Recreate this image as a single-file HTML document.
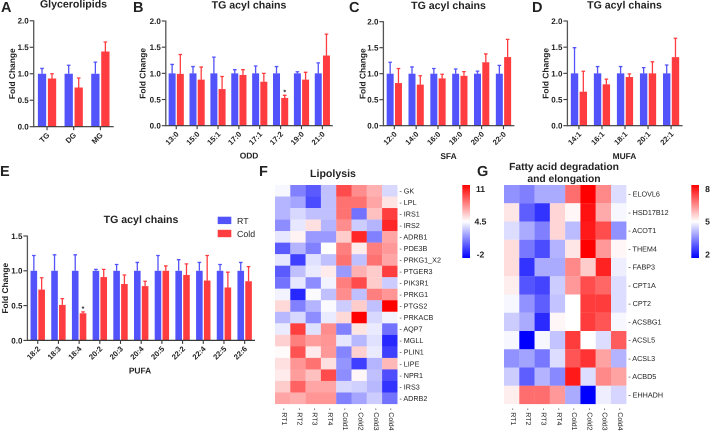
<!DOCTYPE html>
<html>
<head>
<meta charset="utf-8">
<title>Fold change charts and heatmaps</title>
<style>
html,body{margin:0;padding:0;background:#fff;}
svg{display:block;filter:blur(0.3px);}
text{font-family:"Liberation Sans",Arial,sans-serif;fill:#222;text-rendering:geometricPrecision;}
</style>
</head>
<body>
<svg id="fig" xmlns="http://www.w3.org/2000/svg" width="712" height="431" viewBox="0 0 712 431"></svg>
<script>
// Panel A
const catsA = ['TG','DG','MG'];
const rtA = [1,1,1];
const rtTopA = [1.1,1.16,1.22];
const coldA = [0.91,0.74,1.42];
const coldTopA = [1.0,0.92,1.6];
// Panel B
const catsB = ['13:0','15:0','15:1','17:0','17:1','17:2','19:0','21:0'];
const rtB = [1,1,1,1,1,1,1,1];
const rtTopB = [1.17,1.13,1.31,1.07,1.14,1.13,1.03,1.2];
const coldB = [0.99,0.88,0.70,0.97,0.84,0.53,0.88,1.34];
const coldTopB = [1.36,1.12,0.94,1.07,1.0,0.58,1.02,1.75];
// Panel C
const catsC = ['12:0','14:0','16:0','18:0','20:0','22:0'];
const rtC = [1,1,1,1,1,1];
const rtTopC = [1.22,1.13,1.1,1.09,1.05,1.16];
const coldC = [0.82,0.79,0.91,0.96,1.22,1.32];
const coldTopC = [1.1,0.96,0.99,1.04,1.38,1.66];
// Panel D
const catsD = ['14:1','16:1','18:1','20:1','22:1'];
const rtD = [1,1,1,1,1];
const rtTopD = [1.49,1.13,1.13,1.11,1.16];
const coldD = [0.65,0.79,0.93,1.0,1.31];
const coldTopD = [1.04,0.89,0.99,1.22,1.67];
// Panel E
const catsE = ['18:2','18:3','18:4','20:2','20:3','20:4','20:5','22:2','22:4','22:5','22:6'];
const rtE = [1,1,1,1,1,1,1,1,1,1,1];
const rtTopE = [1.22,1.23,1.23,1.02,1.09,1.12,1.22,1.16,1.12,1.09,1.12];
const coldE = [0.73,0.51,0.39,0.91,0.81,0.78,1.0,0.94,0.86,0.76,0.85];
const coldTopE = [0.90,0.60,0.41,1.02,0.94,0.85,1.07,1.1,1.22,0.98,1.06];
// Axis ticks
const ticks2 = [0,0.5,1,1.5,2];
const ticks15 = [0,0.5,1,1.5];
// Heatmap F
const colsHeat = ['RT1','RT2','RT3','RT4','Cold1','Cold2','Cold3','Cold4'];
const rowsF = ['GK','LPL','IRS1','IRS2','ADRB1','PDE3B','PRKG1_X2','PTGER3','PIK3R1','PRKG1','PTGS2','PRKACB','AQP7','MGLL','PLIN1','LIPE','NPR1','IRS3','ADRB2'];
const valuesF = [
[4.3,1.3,0.3,2.9,9.1,7.4,6.5,3.5],
[2.6,2.2,-0.1,2.9,8.1,8.1,6.8,5.2],
[2.6,3.5,2.9,2.9,8.1,0.9,6.1,9.4],
[1.6,3.9,5.3,2.6,7.4,3.2,2.6,10],
[3.9,4.8,1.9,1.9,5.8,10,1.3,6.8],
[0.3,2.6,1.3,4.5,7.8,5,7.8,7.1],
[3.9,-0.4,3.7,2.9,8.1,2.9,8.1,6.8],
[0.3,2.9,4,5,1.9,6.5,5.8,9.4],
[0.9,3.9,1.6,4.2,7.8,9.1,5.8,3.2],
[4.2,-1,4.4,2.9,7.4,2.9,7.8,7.2],
[5.5,1.3,2.6,4.4,3.2,5.8,2.9,11],
[2.7,3.5,1.6,4,5.5,11,3.5,4.2],
[4,9.4,3.7,7.4,1.3,5.2,4,0.9],
[5.7,7.8,7,7.2,3.9,2.7,3.7,-1],
[4.6,8.9,5,7.1,1.4,5.7,4,-0.4],
[5.3,7.2,8.1,5.3,1.8,-0.4,2.6,6.3],
[5,7,6.1,9.1,1.6,4.7,2.9,0],
[5.8,8.5,6.8,6.8,3.5,3.3,2.7,-0.7],
[6.8,6.6,7.2,7.2,1.3,2.2,3.2,0.9]
];
const legendF = [11,4.5,-2];
// Heatmap G
const rowsG = ['ELOVL6','HSD17B12','ACOT1','THEM4','FABP3','CPT1A','CPT2','ACSBG1','ACSL5','ACSL3','ACBD5','EHHADH'];
const valuesG = [
[3.7,3.5,4,4,6.7,8,6.4,4.6],
[5.3,3.1,2.6,5.5,5.1,7.8,6,4.9],
[4.6,4,3.5,5.5,4.2,7.7,7.1,3.7],
[5.4,3.4,2.9,4.1,5.3,8,6.2,5.1],
[5.4,2.6,4,4,6.4,5.6,7.6,4.8],
[5.2,3,2.8,4.4,6.2,7.1,6.8,4.6],
[4.9,3.7,3.1,4.3,5,7.3,7.3,4.6],
[4.4,4,2.5,5.1,5,7.3,7,4.9],
[4.9,2,4.9,4.3,7.3,5,4.6,6.9],
[3.7,3.9,3.4,4.6,7,7.4,6.1,4.1],
[4.4,3.1,4.1,3.6,7.7,4.6,6.4,6.1],
[5.2,6.7,6.7,6.2,4,2,4.8,4.5]
];
const legendG = [8,5,2];

const NS = 'http://www.w3.org/2000/svg';
const svg = document.getElementById('fig');
const BLUE = '#5353fb', RED = '#ff3d40', AXIS = '#3a3a3a';

function mk(tag, attrs, parent) {
  const el = document.createElementNS(NS, tag);
  for (const k in attrs) el.setAttribute(k, attrs[k]);
  (parent || svg).appendChild(el);
  return el;
}
function label(x, y, str, size, weight, anchor, parent, transform) {
  const t = mk('text', {x: x, y: y, 'font-size': size, 'font-weight': weight, 'text-anchor': anchor}, parent);
  if (transform) t.setAttribute('transform', transform);
  t.textContent = str;
  return t;
}

function barChart(p) {
  const g = mk('g', {});
  
  
  const yMax = p.ticks[p.ticks.length - 1];
  const yScale = v => p.y0 - (v / yMax) * (p.y0 - p.yTop);
  const step = (p.xEnd - p.x0) / p.cats.length;
  const center = i => p.x0 + step * (i + 0.5);

  p.cats.forEach((c, i) => {
    const cx = center(i);
    const series = [
      {val: p.rt[i], top: p.rtTop[i], color: BLUE, x: cx - p.barW - p.gap / 2, key: 'rt'},
      {val: p.cold[i], top: p.coldTop[i], color: RED, x: cx + p.gap / 2, key: 'cold'}
    ];
    series.forEach(s => {
      const mid = s.x + p.barW / 2;
      const err = mk('path', {d: `M${mid} ${yScale(s.val)}V${yScale(s.top)}M${mid - 1.8} ${yScale(s.top)}H${mid + 1.8}`, stroke: s.color, 'stroke-width': 1.3, fill: 'none'}, g);
      
      
      const r = mk('rect', {x: s.x, y: yScale(s.val), width: p.barW, height: p.y0 - yScale(s.val), fill: s.color}, g);
      
      
    });
    if (p.star === i) {
      const st = label(cx + p.gap / 2 + p.barW / 2, yScale(p.coldTop[i]) - 1, '*', 7, 'bold', 'middle', g);
      
      
    }
    const tick = mk('line', {x1: cx, x2: cx, y1: p.y0, y2: p.y0 + 3.5, stroke: AXIS, 'stroke-width': 1.1}, g);
    
    
    const tx = cx + 3, ty = p.y0 + 9;
    const tl = label(tx, ty, c, 7.6, 'bold', 'end', g, `rotate(-45 ${tx} ${ty})`);
    
    
  });

  p.ticks.forEach(v => {
    const y = yScale(v);
    const tick = mk('line', {x1: p.x0 - 4, x2: p.x0, y1: y, y2: y, stroke: AXIS, 'stroke-width': 1.1}, g);
    
    
    const tl = label(p.x0 - 5, y + 2.9, v.toFixed(1), 8, 'bold', 'end', g);
    
    
  });

  const yAxis = mk('line', {x1: p.x0, x2: p.x0, y1: p.yTop - 0.5, y2: p.y0 + 0.5, stroke: '#555', 'stroke-width': 1.3}, g);
  
  
  const xAxis = mk('line', {x1: p.x0, x2: p.xEnd, y1: p.y0, y2: p.y0, stroke: AXIS, 'stroke-width': 1.2}, g);
  
  

  const yMid = (p.y0 + p.yTop) / 2;
  const yt = label(p.yTitleX, yMid, 'Fold Change', 8.4, 'bold', 'middle', g, `rotate(-90 ${p.yTitleX} ${yMid})`);
  
  

  const title = label(p.titleX, p.titleY, p.title, 10.6, 'bold', 'middle', g);
  
  

  if (p.xTitle) {
    const xt = label(p.xTitleX, p.xTitleY, p.xTitle, 8.4, 'bold', 'middle', g);
    
    
  }
}

barChart({name:'panel-a-glycerolipids', cats:catsA, rt:rtA, rtTop:rtTopA, cold:coldA, coldTop:coldTopA, ticks:ticks2,
  x0:33.7, xEnd:113.7, y0:126.7, yTop:20.8, barW:8.3, gap:1.7, yTitleX:15, title:'Glycerolipids', titleX:73.5, titleY:7.5});
barChart({name:'panel-b-odd', cats:catsB, rt:rtB, rtTop:rtTopB, cold:coldB, coldTop:coldTopB, ticks:ticks2, star:5,
  x0:165.8, xEnd:332.8, y0:125.7, yTop:21, barW:7, gap:1.2, yTitleX:145.5, title:'TG acyl chains', titleX:249, titleY:8.5, xTitle:'ODD', xTitleX:249, xTitleY:158.5});
barChart({name:'panel-c-sfa', cats:catsC, rt:rtC, rtTop:rtTopC, cold:coldC, coldTop:coldTopC, ticks:ticks2,
  x0:383.4, xEnd:514.4, y0:125.7, yTop:21.7, barW:7, gap:1.3, yTitleX:365.5, title:'TG acyl chains', titleX:448.5, titleY:9, xTitle:'SFA', xTitleX:448.5, xTitleY:159});
barChart({name:'panel-d-mufa', cats:catsD, rt:rtD, rtTop:rtTopD, cold:coldD, coldTop:coldTopD, ticks:ticks2,
  x0:567.4, xEnd:682.6, y0:125.7, yTop:21, barW:7.4, gap:1.4, yTitleX:548.5, title:'TG acyl chains', titleX:624.5, titleY:8.5, xTitle:'MUFA', xTitleX:624.5, xTitleY:159});
barChart({name:'panel-e-pufa', cats:catsE, rt:rtE, rtTop:rtTopE, cold:coldE, coldTop:coldTopE, ticks:ticks15, star:2,
  x0:27.4, xEnd:255, y0:340.4, yTop:236, barW:6.6, gap:1.2, yTitleX:8, title:'TG acyl chains', titleX:141, titleY:223, xTitle:'PUFA', xTitleX:140, xTitleY:373.5});

// Panel letters
const letterText = ['A','B','C','D','E','F','G'];
const letterX = [1,133,349,532,0,259,477];
const letterY = [12,12,12,12,176,176,176];
letterText.forEach((t, i) => {
  const l = label(letterX[i], letterY[i], t, 14.5, 'bold', 'start');
  
  
});

// Legend
const legendNames = ['RT','Cold'];
const legendColors = [BLUE, RED];
const legendSwatchY = [216.7, 229.8];
legendNames.forEach((n, i) => {
  const g = mk('g', {});
  
  
  mk('rect', {x: 217.7, y: legendSwatchY[i], width: 13.6, height: 7.4, fill: legendColors[i]}, g);
  label(237, legendSwatchY[i] + 7.2, n, 8.8, 'normal', 'start', g);
});

// Heatmaps
function divergeColor(v, lo, hi) {
  const mid = (lo + hi) / 2;
  const t = Math.max(-1, Math.min(1, (v - mid) / ((hi - lo) / 2)));
  const k = Math.round(255 * (1 - Math.abs(t)));
  return t >= 0 ? `rgb(255,${k},${k})` : `rgb(${k},${k},255)`;
}

function heatmap(h) {
  const g = mk('g', {});
  
  
  const cw = h.w / h.cols.length;
  const rh = h.h / h.rows.length;
  const xOf = j => h.x + j * cw;
  const yOf = i => h.y + i * rh;
  h.values.forEach((row, i) => {
    row.forEach((v, j) => {
      const r = mk('rect', {x: xOf(j), y: yOf(i), width: cw + 0.1, height: rh + 0.1, fill: divergeColor(v, h.lo, h.hi)}, g);
      
      
    });
    const rl = label(h.x + h.w + 2, yOf(i) + rh / 2 + 2.6, '- ' + h.rows[i], 7.2, 'normal', 'start', g);
    
    
  });
  h.cols.forEach((c, j) => {
    const cx = xOf(j) + cw / 2 - 0.7;
    const cy = h.y + h.h + 4;
    const cl = label(cx, cy, '- ' + c, 7, 'normal', 'start', g, `rotate(90 ${cx} ${cy})`);
    
    
  });
  const gradId = h.name + '-grad';
  const defs = mk('defs', {}, g);
  const grad = mk('linearGradient', {id: gradId, x1: 0, y1: 0, x2: 0, y2: 1}, defs);
  mk('stop', {offset: '0%', 'stop-color': '#ff0000'}, grad);
  mk('stop', {offset: '50%', 'stop-color': '#ffffff'}, grad);
  mk('stop', {offset: '100%', 'stop-color': '#0000ff'}, grad);
  const bar = mk('rect', {x: h.barX, y: 185, width: h.barW, height: 73, fill: `url(#${gradId})`}, g);
  
  
  h.legend.forEach((v, i) => {
    const lbl = label(h.legendX, 192 + i * 32.7, String(v), 8.6, 'bold', 'middle', g);
    
    
  });
}

heatmap({name:'heatmap-lipolysis', rows:rowsF, cols:colsHeat, values:valuesF, lo:-2, hi:11, legend:legendF,
  x:275, y:185, w:122.4, h:219, barX:462.3, barW:7.7, legendX:480.5});
heatmap({name:'heatmap-fatty-acid', rows:rowsG, cols:colsHeat, values:valuesG, lo:2, hi:8, legend:legendG,
  x:504, y:185, w:122.3, h:219, barX:691.3, barW:7.7, legendX:707.5});

const tF = label(333, 177, 'Lipolysis', 10.6, 'bold', 'middle');


const tG1 = label(564, 170, 'Fatty acid degradation', 10.3, 'bold', 'middle');


const tG2 = label(564, 182, 'and elongation', 10.3, 'bold', 'middle');


</script>
</body>
</html>
